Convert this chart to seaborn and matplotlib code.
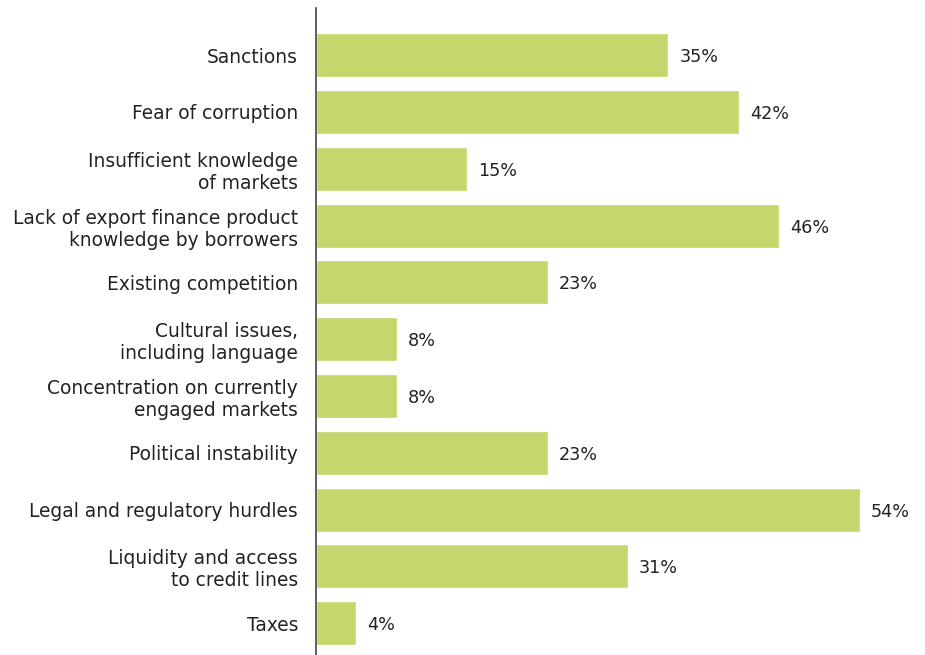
import matplotlib
matplotlib.use("Agg")
import matplotlib.pyplot as plt
import seaborn as sns
import pandas as pd

categories = [
    "Sanctions",
    "Fear of corruption",
    "Insufficient knowledge\nof markets",
    "Lack of export finance product\nknowledge by borrowers",
    "Existing competition",
    "Cultural issues,\nincluding language",
    "Concentration on currently\nengaged markets",
    "Political instability",
    "Legal and regulatory hurdles",
    "Liquidity and access\nto credit lines",
    "Taxes",
]
values = [35, 42, 15, 46, 23, 8, 8, 23, 54, 31, 4]
value_labels = [f"{v}%" for v in values]

df = pd.DataFrame({"category": categories, "value": values})

sns.set_theme(style="white")
plt.rcParams["font.family"] = ["DejaVu Sans"]

fig = plt.figure(figsize=(9.25, 6.55), dpi=100)
ax = fig.add_axes([316 / 925, 0, 1 - 316 / 925, (655 - 8) / 655])

sns.barplot(data=df, x="value", y="category", color="#c4d66c", saturation=1,
            width=0.775, ax=ax)

for i, (v, lab) in enumerate(zip(values, value_labels)):
    ax.text(v + 1.1, i, lab, va="center_baseline", ha="left", fontsize=12.7,
            color="#222222")

ax.set_xlim(0, 60.5)
ax.set_ylim(10.56, -0.83)
ax.set_xlabel("")
ax.set_ylabel("")
ax.set_xticks([])
ax.tick_params(axis="y", length=0, pad=13, labelsize=13.4, labelcolor="#222222")
for lab in ax.get_yticklabels():
    lab.set_multialignment("right")
    lab.set_linespacing(1.2)
for side in ["top", "right", "bottom"]:
    ax.spines[side].set_visible(False)
ax.spines["left"].set_color("#444444")
ax.spines["left"].set_linewidth(1.2)

fig.savefig("out.png", dpi=100)
